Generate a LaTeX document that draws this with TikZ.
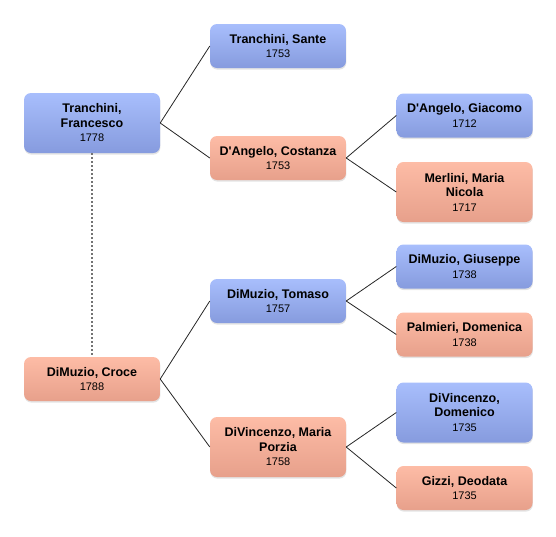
\documentclass[tikz,border=0pt]{standalone}
\usepackage{fontspec}
\setmainfont{Liberation Sans}
\usepackage{xcolor}
\usepackage{tikz}
\usetikzlibrary{positioning,shadows}
\definecolor{bluetop}{RGB}{168,190,252}
\definecolor{bluebot}{RGB}{134,155,222}
\definecolor{pinktop}{RGB}{253,188,166}
\definecolor{pinkbot}{RGB}{231,160,139}
\newcommand{\yearfont}{\fontsize{11}{13}\mdseries\selectfont}
\tikzset{
  person/.style={rectangle, rounded corners=7pt, draw=none, align=center,
                 minimum width=136pt, minimum height=44pt, inner sep=2pt,
                 font=\fontsize{12.5}{14.5}\selectfont\bfseries,
                 drop shadow={shadow xshift=0.4pt, shadow yshift=-1.6pt, opacity=0.22}},
  male/.style={person, top color=bluetop, bottom color=bluebot},
  female/.style={person, top color=pinktop, bottom color=pinkbot},
  tall/.style={minimum height=60pt},
  link/.style={draw=black!85, line width=0.8pt},
  tie/.style={draw=black!55, line width=1.4pt, dash pattern=on 2pt off 2pt}
}

\begin{document}
\begin{tikzpicture}[x=1pt, y=-1pt]
\useasboundingbox (0,0) rectangle (556,536);
% ---- generation 1 ----
\node[male, tall] (f) at (92,123) {Tranchini,\\Francesco\\{\yearfont 1778}};
\node[female] (m) at (92,379) {DiMuzio, Croce\\{\yearfont 1788}};
% ---- generation 2 ----
\node[male] (ff) at (278,46) {Tranchini, Sante\\{\yearfont 1753}};
\node[female] (fm) at (278,158) {D\textquotesingle Angelo, Costanza\\{\yearfont 1753}};
\node[male] (mf) at (278,301) {DiMuzio, Tomaso\\{\yearfont 1757}};
\node[female, tall] (mm) at (278,447) {DiVincenzo, Maria\\Porzia\\{\yearfont 1758}};
% ---- generation 3 ----
\node[male] (fmf) at (464.5,115.5) {D\textquotesingle Angelo, Giacomo\\{\yearfont 1712}};
\node[female, tall] (fmm) at (464.5,192) {Merlini, Maria\\Nicola\\{\yearfont 1717}};
\node[male] (mff) at (464.5,266.5) {DiMuzio, Giuseppe\\{\yearfont 1738}};
\node[female] (mfm) at (464.5,334.5) {Palmieri, Domenica\\{\yearfont 1738}};
\node[male, tall] (mmf) at (464.5,412.5) {DiVincenzo,\\Domenico\\{\yearfont 1735}};
\node[female] (mmm) at (464.5,488) {Gizzi, Deodata\\{\yearfont 1735}};
% ---- links ----
\draw[tie] (f.south) -- (m.north);
\foreach \a/\b in {f/ff, f/fm, m/mf, m/mm, fm/fmf, fm/fmm, mf/mff, mf/mfm, mm/mmf, mm/mmm}
  \draw[link] (\a.east) -- (\b.west);
\end{tikzpicture}
\end{document}
